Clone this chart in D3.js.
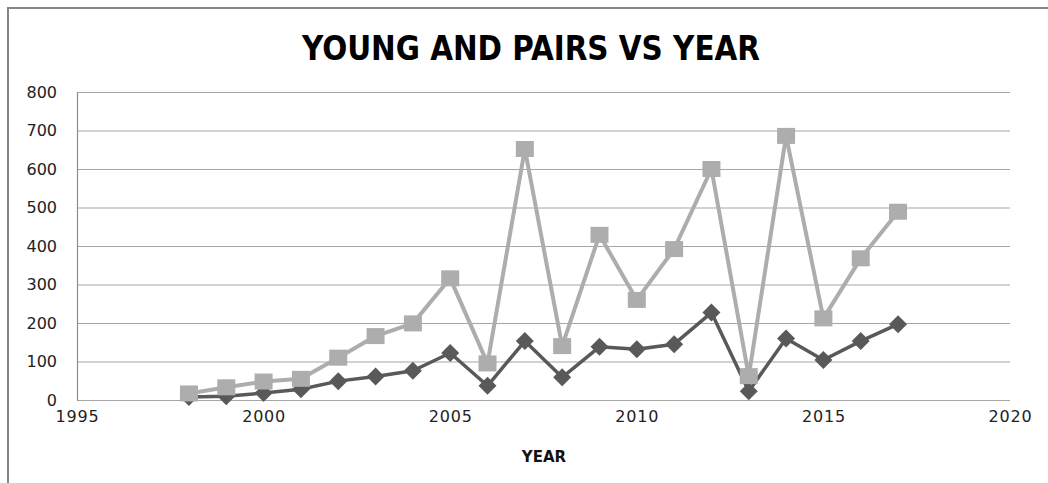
<!DOCTYPE html>
<html>
<head>
<meta charset="utf-8">
<script src="https://cdn.jsdelivr.net/npm/d3@7"></script>
<style>
  body { margin: 0; background: #fff; }
  svg { display: block; }
</style>
</head>
<body>
<div id="chart"></div>
<script>
// data
var years = [1998, 1999, 2000, 2001, 2002, 2003, 2004, 2005, 2006, 2007,
             2008, 2009, 2010, 2011, 2012, 2013, 2014, 2015, 2016, 2017];
var young = [17, 33, 48, 55, 110, 166, 199, 316, 95, 652,
             140, 429, 260, 392, 600, 62, 686, 212, 368, 489];
var pairs = [8, 10, 18, 28, 49, 61, 76, 122, 37, 153,
             59, 138, 132, 145, 227, 23, 160, 104, 153, 197];
var xTicks = [1995, 2000, 2005, 2010, 2015, 2020];
var yTicks = [0, 100, 200, 300, 400, 500, 600, 700, 800];

var W = 1048, H = 483;
var margin = {top: 92, right: 38, bottom: 83, left: 77},
    width = W - margin.left - margin.right,
    height = H - margin.top - margin.bottom;

var svg = d3.select("#chart").append("svg")
    .attr("width", W)
    .attr("height", H);

// outer frame (cut off at right/bottom like the screenshot)
svg.append("path")
    .attr("d", "M8," + H + "V8H" + W)
    .attr("fill", "none")
    .attr("stroke", "#868686")
    .attr("stroke-width", 2);

var g = svg.append("g")
    .attr("transform", "translate(" + margin.left + "," + margin.top + ")");

var x = d3.scaleLinear().domain([1995, 2020]).range([0, width]);
var y = d3.scaleLinear().domain([0, 800]).range([height, 0]);

// horizontal grid
g.append("g")
    .attr("class", "y-grid")
    .call(d3.axisLeft(y).tickValues(yTicks).tickFormat("").tickSizeInner(-width).tickSizeOuter(0))
    .call(s => s.select(".domain").remove())
    .selectAll("line")
    .attr("stroke", "#a6a6a6")
    .attr("stroke-width", 1.2);

// y axis
var yAxis = g.append("g")
    .call(d3.axisLeft(y).tickValues(yTicks).tickSize(0).tickPadding(20));
yAxis.select(".domain").attr("stroke", "#8c8c8c").attr("stroke-width", 1.2);
yAxis.selectAll("text")
    .style("font-family", "DejaVu Sans, Verdana, sans-serif")
    .style("font-size", "16px")
    .attr("fill", "#222");

// x axis
var xAxis = g.append("g")
    .attr("transform", "translate(0," + height + ")")
    .call(d3.axisBottom(x).tickValues(xTicks).tickFormat(d3.format("d")).tickSize(0).tickPadding(11));
xAxis.select(".domain").remove();
xAxis.selectAll("text")
    .style("font-family", "DejaVu Sans, Verdana, sans-serif")
    .style("font-size", "16px")
    .style("letter-spacing", "0.8px")
    .attr("fill", "#222");

// lines
var line = d3.line()
    .x((d, i) => x(years[i]))
    .y(d => y(d));

g.append("path")
    .datum(young)
    .attr("fill", "none")
    .attr("stroke", "#adadad")
    .attr("stroke-width", 4)
    .attr("stroke-linejoin", "round")
    .attr("d", line);

g.append("path")
    .datum(pairs)
    .attr("fill", "none")
    .attr("stroke", "#595959")
    .attr("stroke-width", 3.5)
    .attr("stroke-linejoin", "round")
    .attr("d", line);

// diamond markers (pairs)
g.selectAll(".pairs-pt")
    .data(pairs)
    .enter().append("path")
    .attr("class", "pairs-pt")
    .attr("transform", (d, i) => "translate(" + x(years[i]) + "," + y(d) + ")")
    .attr("d", "M0,-9L9,0L0,9L-9,0Z")
    .attr("fill", "#595959");

// square markers (young)
g.selectAll(".young-pt")
    .data(young)
    .enter().append("rect")
    .attr("class", "young-pt")
    .attr("x", (d, i) => x(years[i]) - 9)
    .attr("y", d => y(d) - 8)
    .attr("width", 18)
    .attr("height", 16)
    .attr("fill", "#adadad");

// title
svg.append("text")
    .attr("x", 531)
    .attr("y", 60)
    .attr("text-anchor", "middle")
    .attr("textLength", 458)
    .attr("lengthAdjust", "spacingAndGlyphs")
    .style("font-family", "Liberation Sans Narrow, DejaVu Sans Condensed, sans-serif")
    .style("font-weight", "bold")
    .style("font-size", "33px")
    .attr("fill", "#000")
    .text("YOUNG AND PAIRS VS YEAR");

// x axis title
svg.append("text")
    .attr("x", 544)
    .attr("y", 462)
    .attr("text-anchor", "middle")
    .style("font-family", "DejaVu Sans, Verdana, sans-serif")
    .style("font-weight", "bold")
    .style("font-size", "15px")
    .attr("fill", "#111")
    .text("YEAR");
</script>
</body>
</html>
